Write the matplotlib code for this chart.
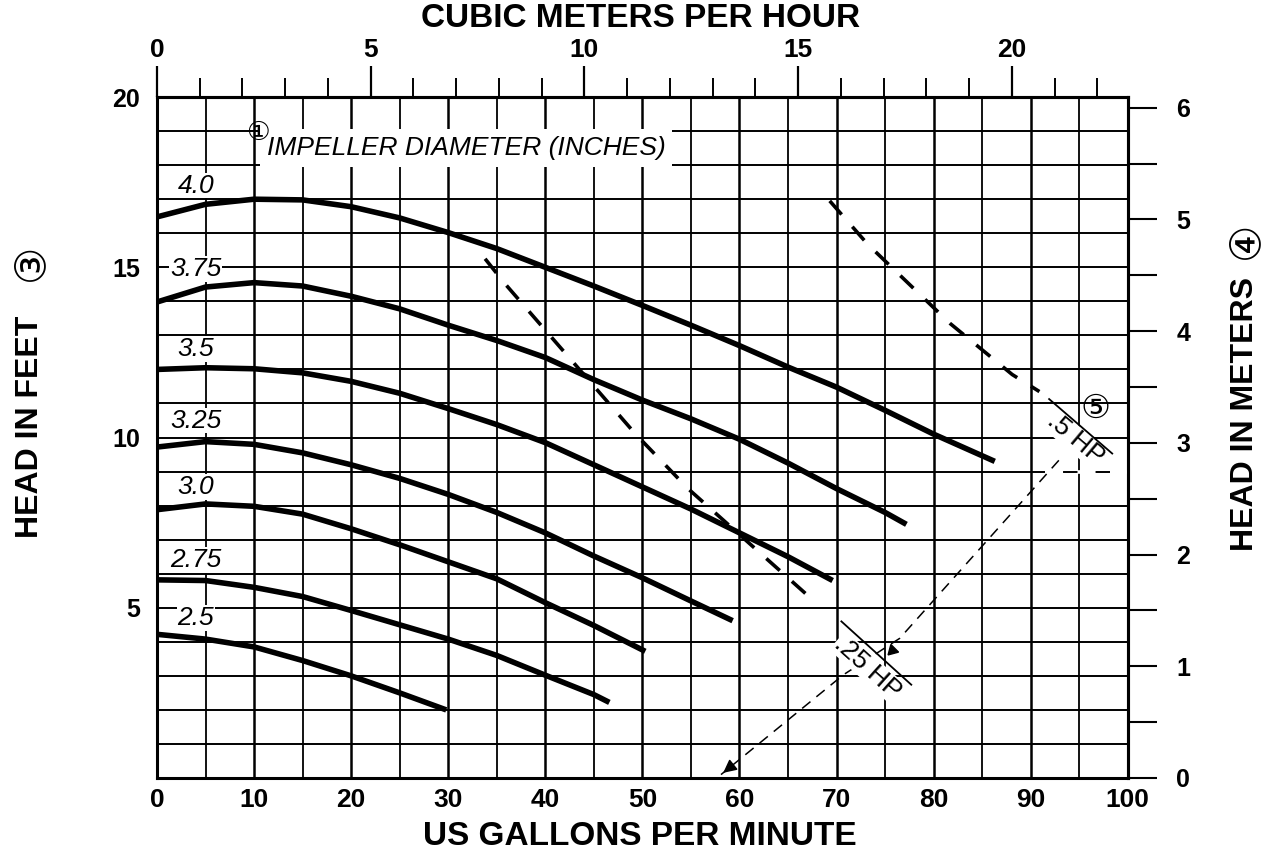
import numpy as np
import matplotlib
matplotlib.use('Agg')
import matplotlib.pyplot as plt
from matplotlib.ticker import MultipleLocator, FixedLocator, NullFormatter

plt.rcParams['font.family'] = ['Liberation Sans', 'DejaVu Sans']
NARROW = ['Liberation Sans Narrow', 'Liberation Sans', 'DejaVu Sans']
CIRC = ['DejaVu Sans', 'Noto Sans CJK JP']

# ---- pump curves (US GPM vs head in feet), one per impeller diameter ----
gpm_40 = [0, 5, 10, 15, 20, 25, 30, 35, 40, 45, 50, 55, 60, 65, 70, 75, 80, 86.3]
head_40 = [16.48, 16.85, 17.0, 16.98, 16.78, 16.45, 16.02, 15.55, 15.0, 14.45,
           13.88, 13.3, 12.7, 12.07, 11.48, 10.8, 10.1, 9.3]
gpm_375 = [0, 5, 10, 15, 20, 25, 30, 35, 40, 45, 50, 55, 60, 65, 70, 75, 77.2]
head_375 = [13.98, 14.42, 14.55, 14.45, 14.15, 13.78, 13.3, 12.85, 12.35, 11.7,
            11.1, 10.55, 9.95, 9.25, 8.5, 7.8, 7.45]
gpm_35 = [0, 5, 10, 15, 20, 25, 30, 35, 40, 45, 50, 55, 60, 65, 69.6]
head_35 = [12.0, 12.05, 12.02, 11.9, 11.65, 11.3, 10.85, 10.38, 9.85, 9.2,
           8.55, 7.9, 7.2, 6.5, 5.8]
gpm_325 = [0, 5, 10, 15, 20, 25, 30, 35, 40, 45, 50, 55, 59.3]
head_325 = [9.72, 9.88, 9.8, 9.55, 9.2, 8.8, 8.33, 7.8, 7.2, 6.52, 5.88, 5.2, 4.62]
gpm_30 = [0, 5, 10, 15, 20, 25, 30, 35, 40, 45, 50.3]
head_30 = [7.88, 8.05, 7.98, 7.75, 7.32, 6.85, 6.35, 5.85, 5.15, 4.48, 3.72]
gpm_275 = [0, 5, 10, 15, 20, 25, 30, 35, 40, 45, 46.6]
head_275 = [5.82, 5.8, 5.6, 5.33, 4.92, 4.5, 4.08, 3.6, 3.02, 2.45, 2.22]
gpm_25 = [0, 5, 10, 15, 20, 25, 29.8]
head_25 = [4.22, 4.08, 3.85, 3.45, 3.0, 2.5, 2.0]

diameters = ['4.0', '3.75', '3.5', '3.25', '3.0', '2.75', '2.5']
label_heads = [17.4, 14.95, 12.6, 10.5, 8.55, 6.4, 4.7]

# ---- motor limit lines ----
hp25_gpm = [33.8, 35.9, 49.3, 54.7, 67.9]
hp25_head = [15.25, 14.5, 10.1, 8.5, 5.14]
hp5_gpm = [69.3, 73.2, 81.7, 88.1, 90.9]
hp5_head = [16.95, 15.68, 13.35, 11.85, 11.35]
hp25_mark_gpm = [70.5, 77.7]
hp25_mark_head = [4.6, 2.74]
hp5_mark_gpm = [91.9, 98.4]
hp5_mark_head = [11.13, 9.53]
lead_gpm = [92.9, 76.5, 70.7, 58.1]
lead_head = [9.33, 4.1, 3.03, 0.1]

curves = [(gpm_40, head_40), (gpm_375, head_375), (gpm_35, head_35),
          (gpm_325, head_325), (gpm_30, head_30), (gpm_275, head_275),
          (gpm_25, head_25)]

GPM_TO_M3H = 0.22712
FT_TO_M = 0.3048

fig = plt.figure(figsize=(12.7, 8.59), dpi=100)
ax = fig.add_axes([0.1236, 0.0943, 0.7644, 0.7927])
ax.set_xlim(0, 100)
ax.set_ylim(0, 20)

# grid
ax.xaxis.set_major_locator(MultipleLocator(10))
ax.xaxis.set_minor_locator(MultipleLocator(5))
ax.yaxis.set_major_locator(FixedLocator([5, 10, 15, 20]))
ax.yaxis.set_minor_locator(MultipleLocator(1))
ax.set_axisbelow(True)
ax.grid(which='major', axis='x', color='black', lw=1.8)
ax.grid(which='minor', axis='x', color='black', lw=1.3)
ax.grid(which='both', axis='y', color='black', lw=1.4)
ax.tick_params(which='both', length=0)
ax.tick_params(axis='x', pad=7)
ax.tick_params(axis='y', pad=12)
for lbl in ax.get_xticklabels():
    lbl.set_family(NARROW)
    lbl.set_fontsize(19)
    lbl.set_fontweight('bold')
for lbl in ax.get_yticklabels():
    lbl.set_fontsize(18)
    lbl.set_fontweight('bold')
for sp in ax.spines.values():
    sp.set_linewidth(2.2)

# broken grid line near the .5 HP label
ax.plot([91.5, 100], [9, 9], color='white', lw=2.6, dashes=(5, 4), zorder=1.5)

# curves
for (g, h) in curves:
    ax.plot(g, h, color='black', lw=4, solid_capstyle='butt', zorder=3)
for d, yh in zip(diameters, label_heads):
    ax.text(4.0, yh, d, fontsize=19, style='italic', ha='center', va='center',
            bbox=dict(fc='white', ec='none', pad=0.5), zorder=4)

# HP lines
ax.plot(hp25_gpm, hp25_head, color='black', lw=2.6, dashes=(5, 4.5), zorder=3)
ax.plot(hp5_gpm, hp5_head, color='black', lw=2.6, dashes=(5, 4.5), zorder=3)
ax.plot(lead_gpm, lead_head, color='black', lw=1.1, dashes=(7, 5), zorder=3)
ax.annotate('', xy=(lead_gpm[-1], lead_head[-1]), xytext=(59.5, 0.42),
            arrowprops=dict(arrowstyle='-|>', color='black', lw=1.1,
                            mutation_scale=20), zorder=3)
ax.plot(hp25_mark_gpm, hp25_mark_head, color='black', lw=1.3, zorder=5)
ax.plot(hp5_mark_gpm, hp5_mark_head, color='black', lw=1.3, zorder=5)
ax.text(73.2, 3.25, '.25 HP', fontsize=19, rotation=-42, rotation_mode='anchor',
        ha='center', va='center', bbox=dict(fc='white', ec='none', pad=0.3),
        zorder=4)
ax.text(94.6, 9.95, '.5 HP', fontsize=19, rotation=-40, rotation_mode='anchor',
        ha='center', va='center', bbox=dict(fc='white', ec='none', pad=0.3),
        zorder=4)
ax.plot([75.7], [3.75], marker=(3, 0, -105), ms=9, color='black', zorder=5)
ax.text(96.7, 10.85, '\u2464', fontsize=24, family=CIRC, ha='center',
        va='center', zorder=5)

ax.text(11.3, 18.5, 'IMPELLER DIAMETER (INCHES)', fontsize=19, style='italic',
        ha='left', va='center', bbox=dict(fc='white', ec='none', pad=5),
        zorder=4)
ax.text(10.4, 18.95, '\u2460', fontsize=19, family=CIRC, ha='center',
        va='center', zorder=5)

# top axis: cubic meters per hour
secx = ax.secondary_xaxis('top', functions=(lambda x: x * GPM_TO_M3H,
                                            lambda m: m / GPM_TO_M3H))
secx.xaxis.set_major_locator(FixedLocator([0, 5, 10, 15, 20]))
secx.xaxis.set_minor_locator(MultipleLocator(1))
secx.xaxis.set_minor_formatter(NullFormatter())
secx.tick_params(which='major', length=22, width=1.6, pad=3)
secx.tick_params(which='minor', length=14, width=1.4)
secx.spines['top'].set_linewidth(2.2)
for lbl in secx.get_xticklabels():
    lbl.set_family(NARROW)
    lbl.set_fontsize(19)
    lbl.set_fontweight('bold')

# right axis: head in meters
secy = ax.secondary_yaxis('right', functions=(lambda f: f * FT_TO_M,
                                              lambda m: m / FT_TO_M))
secy.yaxis.set_major_locator(FixedLocator([0, 1, 2, 3, 4, 5, 6]))
secy.yaxis.set_minor_locator(FixedLocator([0.5, 1.5, 2.5, 3.5, 4.5, 5.5]))
secy.yaxis.set_minor_formatter(NullFormatter())
secy.tick_params(which='both', length=21, width=1.5, pad=14)
secy.spines['right'].set_linewidth(2.2)
for lbl in secy.get_yticklabels():
    lbl.set_fontsize(18)
    lbl.set_fontweight('bold')

# axis titles
fig.text(0.504, 0.979, 'CUBIC METERS PER HOUR', family=NARROW, fontsize=24,
         fontweight='bold', ha='center', va='center')
fig.text(0.504, 0.026, 'US GALLONS PER MINUTE', family=NARROW, fontsize=24,
         fontweight='bold', ha='center', va='center')
fig.text(0.024, 0.503, 'HEAD IN FEET', family=NARROW, fontsize=23,
         fontweight='bold', rotation=90, ha='center', va='center')
fig.text(0.024, 0.695, '\u2462', family=CIRC, fontsize=30, rotation=90,
         ha='center', va='center')
fig.text(0.980, 0.518, 'HEAD IN METERS', family=NARROW, fontsize=23,
         fontweight='bold', rotation=90, ha='center', va='center')
fig.text(0.980, 0.720, '\u2463', family=CIRC, fontsize=30, rotation=90,
         ha='center', va='center')

fig.savefig('out.png', dpi=100)
